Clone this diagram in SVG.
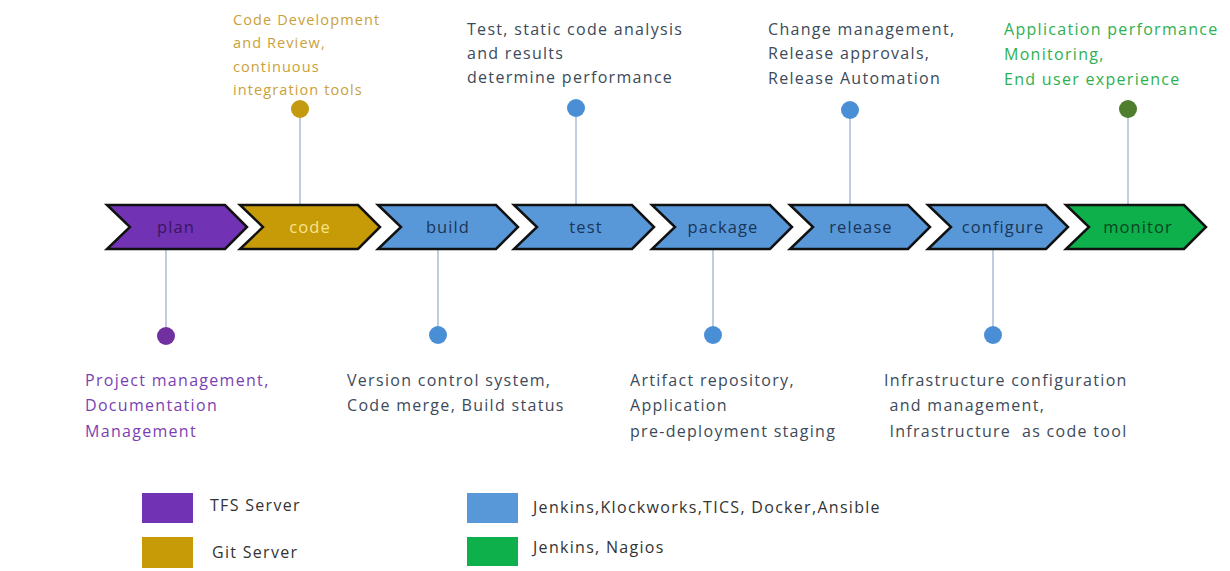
<svg xmlns="http://www.w3.org/2000/svg" width="1230" height="571" viewBox="0 0 1230 571">
<style>
  text { font-family: "Open Sans", "Noto Sans", sans-serif; }
  .chev { stroke: #111; stroke-width: 2.5; stroke-linejoin: miter; }
  .purple { fill: #7232B4; }
  .gold { fill: #C79A08; }
  .blue { fill: #5898D8; }
  .green { fill: #0DB04B; }
  .lbl { font-size: 16.5px; letter-spacing: 1.1px; text-anchor: middle; }
  .desc { font-size: 16px; letter-spacing: 1.3px; }
  .link { stroke: #A8BDD4; stroke-width: 1.5; fill: none; }
  .leg { font-size: 16px; letter-spacing: 1.3px; fill: #333; }
</style>
<defs>
  <polygon id="chevShape" points="0,205 118,205 140,227 118,249 0,249 23,227"/>
</defs>
<rect width="1230" height="571" fill="#fff"/>

<g id="connectors">
  <line class="link" x1="166" y1="249" x2="166" y2="336"/>
  <line class="link" x1="300" y1="109" x2="300" y2="205"/>
  <line class="link" x1="438" y1="249" x2="438" y2="335"/>
  <line class="link" x1="576" y1="108" x2="576" y2="205"/>
  <line class="link" x1="713" y1="249" x2="713" y2="335"/>
  <line class="link" x1="850" y1="110" x2="850" y2="205"/>
  <line class="link" x1="993" y1="249" x2="993" y2="335"/>
  <line class="link" x1="1128" y1="109" x2="1128" y2="205"/>
</g>

<g id="plan">
  <use href="#chevShape" x="107" class="chev purple"/>
  <text class="lbl" x="176" y="233" fill="#3A1660">plan</text>
  <circle cx="166" cy="336" r="9" fill="#7030A0"/>
  <text class="desc" fill="#7B3FB3"><tspan x="85" y="386">Project management,</tspan><tspan x="85" y="411">Documentation</tspan><tspan x="85" y="437">Management</tspan></text>
</g>

<g id="code">
  <use href="#chevShape" x="240" class="chev gold"/>
  <text class="lbl" x="310" y="233" fill="#F7E58A">code</text>
  <circle cx="300" cy="109" r="9" fill="#C49A10"/>
  <text class="desc" fill="#C9A13A" style="font-size:14.5px;letter-spacing:1.1px"><tspan x="233" y="25">Code Development</tspan><tspan x="233" y="48">and Review,</tspan><tspan x="233" y="72">continuous</tspan><tspan x="233" y="95">integration tools</tspan></text>
</g>

<g id="build">
  <use href="#chevShape" x="378" class="chev blue"/>
  <text class="lbl" x="448" y="233" fill="#1B3556">build</text>
  <circle cx="438" cy="335" r="9" fill="#4A8FD6"/>
  <text class="desc" fill="#3C4A5A"><tspan x="347" y="386">Version control system,</tspan><tspan x="347" y="411">Code merge, Build status</tspan></text>
</g>

<g id="test">
  <use href="#chevShape" x="514" class="chev blue"/>
  <text class="lbl" x="586" y="233" fill="#1B3556">test</text>
  <circle cx="576" cy="108" r="9" fill="#4A8FD6"/>
  <text class="desc" fill="#3C4A5A"><tspan x="467" y="35">Test, static code analysis</tspan><tspan x="467" y="59">and results</tspan><tspan x="467" y="83">determine performance</tspan></text>
</g>

<g id="package">
  <use href="#chevShape" x="652" class="chev blue"/>
  <text class="lbl" x="723" y="233" fill="#1B3556">package</text>
  <circle cx="713" cy="335" r="9" fill="#4A8FD6"/>
  <text class="desc" fill="#3C4A5A"><tspan x="630" y="386">Artifact repository,</tspan><tspan x="630" y="411">Application</tspan><tspan x="630" y="437">pre-deployment staging</tspan></text>
</g>

<g id="release">
  <use href="#chevShape" x="790" class="chev blue"/>
  <text class="lbl" x="861" y="233" fill="#1B3556">release</text>
  <circle cx="850" cy="110" r="9" fill="#4A8FD6"/>
  <text class="desc" fill="#3C4A5A"><tspan x="768" y="35">Change management,</tspan><tspan x="768" y="59">Release approvals,</tspan><tspan x="768" y="84">Release Automation</tspan></text>
</g>

<g id="configure">
  <use href="#chevShape" x="928" class="chev blue"/>
  <text class="lbl" x="1003" y="233" fill="#1B3556">configure</text>
  <circle cx="993" cy="335" r="9" fill="#4A8FD6"/>
  <text class="desc" fill="#3C4A5A" xml:space="preserve"><tspan x="884" y="386">Infrastructure configuration</tspan><tspan x="884" y="411"> and management,</tspan><tspan x="884" y="437"> Infrastructure  as code tool</tspan></text>
</g>

<g id="monitor">
  <use href="#chevShape" x="1066" class="chev green"/>
  <text class="lbl" x="1138" y="233" fill="#0B4420">monitor</text>
  <circle cx="1128" cy="109" r="9" fill="#4E7E2E"/>
  <text class="desc" fill="#2FB050"><tspan x="1004" y="35">Application performance</tspan><tspan x="1004" y="60">Monitoring,</tspan><tspan x="1004" y="85">End user experience</tspan></text>
</g>

<g id="legend">
  <rect x="142" y="493" width="51" height="30" fill="#7232B4"/>
  <text class="leg" x="210" y="511">TFS Server</text>
  <rect x="142" y="537" width="51" height="31" fill="#C79A08"/>
  <text class="leg" x="212" y="558">Git Server</text>
  <rect x="467" y="493" width="51" height="30" fill="#5898D8"/>
  <text class="leg" x="533" y="513">Jenkins,Klockworks,TICS, Docker,Ansible</text>
  <rect x="467" y="537" width="51" height="29" fill="#0DB04B"/>
  <text class="leg" x="533" y="553">Jenkins, Nagios</text>
</g>
</svg>
